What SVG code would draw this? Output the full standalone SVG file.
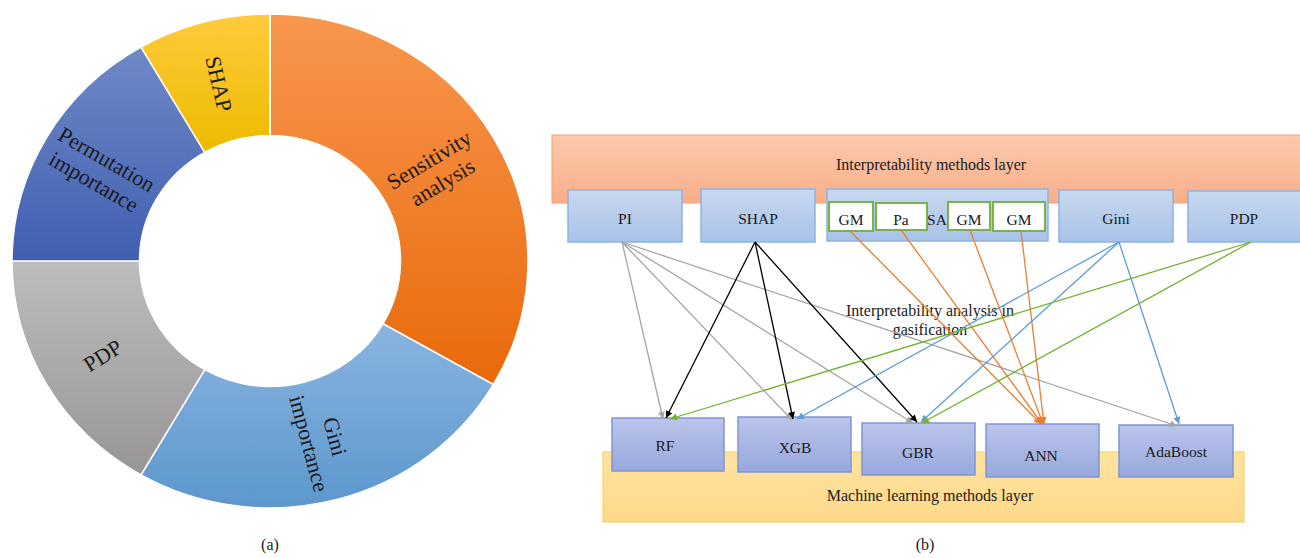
<svg xmlns="http://www.w3.org/2000/svg" width="1300" height="558" viewBox="0 0 1300 558">
<style>
.lbl{font-family:"Liberation Serif","Times New Roman",serif;fill:#1a1a1a;text-anchor:middle}
.dl{font-size:22px}
.bl{font-size:15.5px}
.ly{font-size:16px}
.cap{font-size:16px}
.seg{stroke:#fff;stroke-width:1.5}
.top{fill:url(#gTop);stroke:#8DB3E2;stroke-width:1.5}
.bot{fill:url(#gBot);stroke:#7F95D6;stroke-width:1.5}
.gm{fill:#fff;stroke:#77B347;stroke-width:2}
.c{fill:none;stroke-width:1.3}
</style>
<defs>
<linearGradient id="gSA" x1="0" y1="0" x2="0" y2="1"><stop offset="0" stop-color="#F8974F"/><stop offset="1" stop-color="#E9690A"/></linearGradient>
<linearGradient id="gGini" x1="0" y1="0" x2="0" y2="1"><stop offset="0" stop-color="#8AB4E0"/><stop offset="1" stop-color="#5C97CD"/></linearGradient>
<linearGradient id="gPDP" x1="0" y1="0" x2="0" y2="1"><stop offset="0" stop-color="#BDBDBD"/><stop offset="1" stop-color="#989595"/></linearGradient>
<linearGradient id="gPI" x1="0" y1="0" x2="0" y2="1"><stop offset="0" stop-color="#6F89C8"/><stop offset="1" stop-color="#405FB0"/></linearGradient>
<linearGradient id="gSHAP" x1="0" y1="0" x2="0" y2="1"><stop offset="0" stop-color="#FFCB3C"/><stop offset="1" stop-color="#EDBA00"/></linearGradient>
<linearGradient id="gOr" x1="0" y1="0" x2="0" y2="1"><stop offset="0" stop-color="#FBC9AE"/><stop offset="1" stop-color="#F9AE88"/></linearGradient>
<linearGradient id="gYe" x1="0" y1="0" x2="0" y2="1"><stop offset="0" stop-color="#FFE3A0"/><stop offset="1" stop-color="#FFD98A"/></linearGradient>
<linearGradient id="gTop" x1="0" y1="0" x2="0" y2="1"><stop offset="0" stop-color="#C8D8F0"/><stop offset="1" stop-color="#A8C2E7"/></linearGradient>
<linearGradient id="gBot" x1="0" y1="0" x2="0" y2="1"><stop offset="0" stop-color="#BBC5EC"/><stop offset="1" stop-color="#98A8DD"/></linearGradient>
<marker id="aGray" viewBox="0 0 10 10" refX="10" refY="5" markerWidth="8" markerHeight="7" markerUnits="userSpaceOnUse" orient="auto"><path d="M0,0 L10,5 L0,10 z" fill="#A5A5A5"/></marker>
<marker id="aBlack" viewBox="0 0 10 10" refX="10" refY="5" markerWidth="8" markerHeight="7" markerUnits="userSpaceOnUse" orient="auto"><path d="M0,0 L10,5 L0,10 z" fill="#000"/></marker>
<marker id="aOr" viewBox="0 0 10 10" refX="10" refY="5" markerWidth="8" markerHeight="7" markerUnits="userSpaceOnUse" orient="auto"><path d="M0,0 L10,5 L0,10 z" fill="#ED7D31"/></marker>
<marker id="aBlue" viewBox="0 0 10 10" refX="10" refY="5" markerWidth="8" markerHeight="7" markerUnits="userSpaceOnUse" orient="auto"><path d="M0,0 L10,5 L0,10 z" fill="#5B9BD5"/></marker>
<marker id="aGreen" viewBox="0 0 10 10" refX="10" refY="5" markerWidth="8" markerHeight="7" markerUnits="userSpaceOnUse" orient="auto"><path d="M0,0 L10,5 L0,10 z" fill="#72B22E"/></marker>
</defs>
<rect width="1300" height="558" fill="#fff"/>

<!-- (a) donut chart -->
<g id="donut">
<g id="seg-sensitivity">
<path class="seg" fill="url(#gSA)" d="M270,14 A258,247 0 0 1 493.4,384.5 L383,323.75 A130.5,125.5 0 0 0 270,135.5 Z"/>
<g transform="translate(436,171.5) rotate(-31)"><text class="lbl dl" x="0" y="-6">Sensitivity</text><text class="lbl dl" x="0" y="20">analysis</text></g>
</g>
<g id="seg-gini">
<path class="seg" fill="url(#gGini)" d="M493.4,384.5 A258,247 0 0 1 141,474.9 L204.75,369.7 A130.5,125.5 0 0 0 383,323.75 Z"/>
<g transform="translate(322,440) rotate(75)"><text class="lbl dl" x="0" y="-6">Gini</text><text class="lbl dl" x="0" y="21">importance</text></g>
</g>
<g id="seg-pdp">
<path class="seg" fill="url(#gPDP)" d="M141,474.9 A258,247 0 0 1 12,261 L139.5,261 A130.5,125.5 0 0 0 204.75,369.7 Z"/>
<g transform="translate(103,356) rotate(-32)"><text class="lbl dl" x="0" y="7">PDP</text></g>
</g>
<g id="seg-pi">
<path class="seg" fill="url(#gPI)" d="M12,261 A258,247 0 0 1 141,47.1 L204.75,152.3 A130.5,125.5 0 0 0 139.5,261 Z"/>
<g transform="translate(100,171) rotate(30)"><text class="lbl dl" x="0" y="-6">Permutation</text><text class="lbl dl" x="0" y="20">importance</text></g>
</g>
<g id="seg-shap">
<path class="seg" fill="url(#gSHAP)" d="M141,47.1 A258,247 0 0 1 270,14 L270,135.5 A130.5,125.5 0 0 0 204.75,152.3 Z"/>
<g transform="translate(218.5,84) rotate(77)"><text class="lbl dl" x="0" y="7">SHAP</text></g>
</g>
</g>
<text class="lbl cap" x="270" y="550">(a)</text>
<text class="lbl cap" x="925" y="550">(b)</text>

<!-- (b) layers -->
<g id="layer-interp">
<rect x="552" y="135" width="752" height="68" fill="url(#gOr)" stroke="#F4A06C" stroke-width="1"/>
<text class="lbl ly" x="931" y="170">Interpretability methods layer</text>
</g>
<g id="layer-ml">
<rect x="603" y="452" width="641" height="70" fill="url(#gYe)" stroke="#F9CB55" stroke-width="1"/>
<text class="lbl ly" x="930" y="501">Machine learning methods layer</text>
</g>

<g id="node-PI"><rect class="top" x="568" y="190" width="114" height="52"/><text class="lbl bl" x="625" y="224">PI</text></g>
<g id="node-SHAP"><rect class="top" x="701" y="189" width="114" height="53"/><text class="lbl bl" x="758" y="224">SHAP</text></g>
<g id="node-SA">
<rect class="top" x="827" y="189" width="221" height="52"/>
<text class="lbl bl" x="937" y="225">SA</text>
<g id="node-GM1"><rect class="gm" x="829" y="202" width="44" height="29"/><text class="lbl bl" x="851" y="225">GM</text></g>
<g id="node-Pa"><rect class="gm" x="876" y="203" width="51" height="27"/><text class="lbl bl" x="901" y="225">Pa</text></g>
<g id="node-GM2"><rect class="gm" x="948" y="202" width="42" height="28"/><text class="lbl bl" x="969" y="225">GM</text></g>
<g id="node-GM3"><rect class="gm" x="993" y="202" width="52" height="29"/><text class="lbl bl" x="1019" y="225">GM</text></g>
</g>
<g id="node-Gini"><rect class="top" x="1059" y="190" width="114" height="52"/><text class="lbl bl" x="1116" y="224">Gini</text></g>
<g id="node-PDP"><rect class="top" x="1188" y="191" width="120" height="51"/><text class="lbl bl" x="1244" y="224">PDP</text></g>

<g id="node-RF"><rect class="bot" x="612" y="418" width="112" height="53"/><text class="lbl bl" x="665" y="451">RF</text></g>
<g id="node-XGB"><rect class="bot" x="738" y="417" width="113" height="55"/><text class="lbl bl" x="795" y="453">XGB</text></g>
<g id="node-GBR"><rect class="bot" x="862" y="423" width="113" height="52"/><text class="lbl bl" x="918" y="458">GBR</text></g>
<g id="node-ANN"><rect class="bot" x="986" y="424" width="113" height="53"/><text class="lbl bl" x="1041" y="461">ANN</text></g>
<g id="node-AdaBoost"><rect class="bot" x="1119" y="425" width="114" height="52"/><text class="lbl bl" x="1176" y="457">AdaBoost</text></g>

<text class="lbl ly" x="930" y="316">Interpretability analysis in</text>
<text class="lbl ly" x="930" y="335">gasification</text>

<g id="connectors">
<g stroke="#A5A5A5">
<line class="c" x1="622" y1="242" x2="663" y2="419" marker-end="url(#aGray)"/>
<line class="c" x1="622" y1="242" x2="792" y2="420" marker-end="url(#aGray)"/>
<line class="c" x1="622" y1="242" x2="913" y2="423" marker-end="url(#aGray)"/>
<line class="c" x1="622" y1="242" x2="1177" y2="426" marker-end="url(#aGray)"/>
</g>
<g stroke="#000">
<line class="c" x1="755" y1="242" x2="666" y2="418" marker-end="url(#aBlack)"/>
<line class="c" x1="755" y1="242" x2="793" y2="419" marker-end="url(#aBlack)"/>
<line class="c" x1="755" y1="242" x2="917" y2="422" marker-end="url(#aBlack)"/>
</g>
<g stroke="#ED7D31">
<line class="c" x1="850" y1="231" x2="1041" y2="424" marker-end="url(#aOr)"/>
<line class="c" x1="901" y1="230" x2="1042" y2="424" marker-end="url(#aOr)"/>
<line class="c" x1="970" y1="230" x2="1043" y2="424" marker-end="url(#aOr)"/>
<line class="c" x1="1021" y1="231" x2="1044" y2="424" marker-end="url(#aOr)"/>
</g>
<g stroke="#5B9BD5">
<line class="c" x1="1119" y1="242" x2="797" y2="419" marker-end="url(#aBlue)" stroke-width="1.6"/>
<line class="c" x1="1119" y1="242" x2="921" y2="422" marker-end="url(#aBlue)"/>
<line class="c" x1="1119" y1="242" x2="1179" y2="424" marker-end="url(#aBlue)"/>
</g>
<g stroke="#72B22E">
<line class="c" x1="1251" y1="242" x2="670" y2="419" marker-end="url(#aGreen)"/>
<line class="c" x1="1251" y1="242" x2="922" y2="423" marker-end="url(#aGreen)"/>
</g>
</g>
</svg>
